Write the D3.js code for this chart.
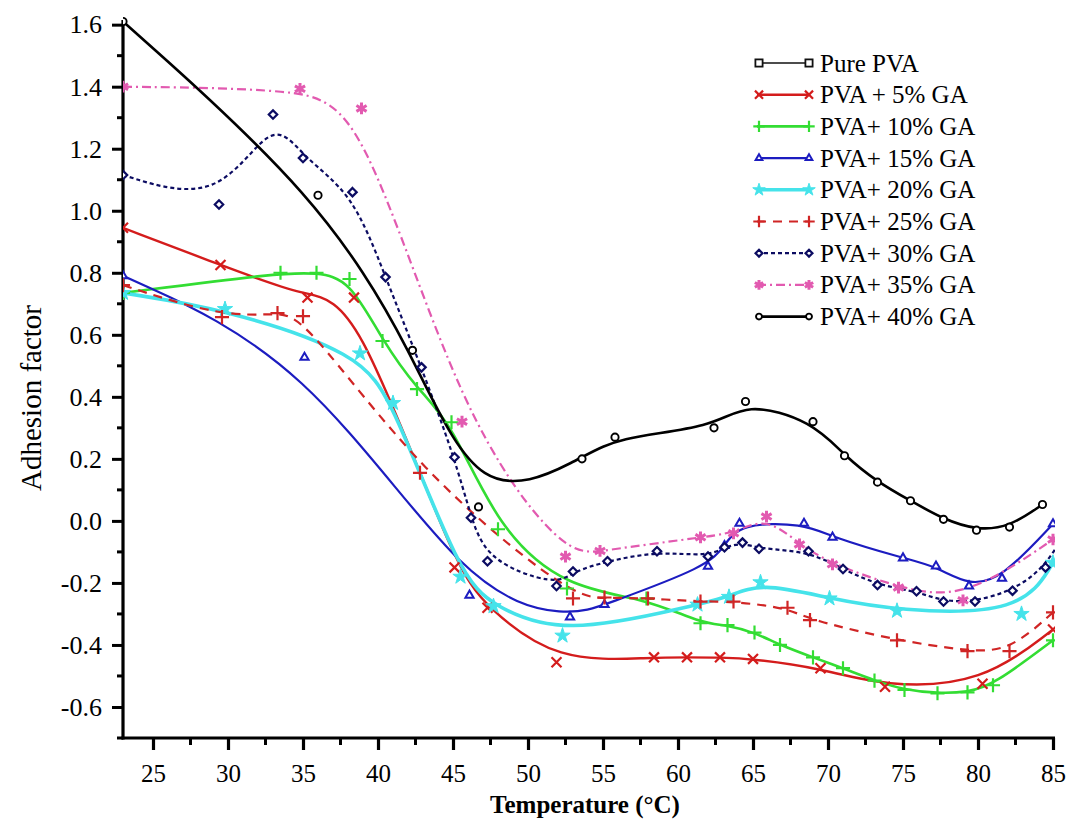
<!DOCTYPE html>
<html>
<head>
<meta charset="utf-8">
<script src="https://cdn.jsdelivr.net/npm/d3@7"></script>
<style>
  body { margin: 0; background: #fff; }
</style>
</head>
<body>
<svg id="chart" width="1071" height="821"></svg>
<script>
// Adhesion factor vs temperature for PVA films with increasing GA content
const xTicks = [25, 30, 35, 40, 45, 50, 55, 60, 65, 70, 75, 80, 85];
const yTicks = [-0.6, -0.4, -0.2, 0.0, 0.2, 0.4, 0.6, 0.8, 1.0, 1.2, 1.4, 1.6];

const seriesNames = ["Pure PVA", "PVA + 5% GA", "PVA+ 10% GA", "PVA+ 15% GA", "PVA+ 20% GA",
                     "PVA+ 25% GA", "PVA+ 30% GA", "PVA+ 35% GA", "PVA+ 40% GA"];

// [temperature °C, adhesion factor]
const purePVA = [];
const ga5 = [[23,0.945],[29.5,0.825],[35.3,0.72],[38.4,0.72],[45.1,-0.15],[47.3,-0.28],[51.9,-0.456],
             [58.4,-0.44],[60.6,-0.44],[62.8,-0.44],[65,-0.445],[69.5,-0.475],[73.8,-0.535],[80.3,-0.525],[85,-0.35]];
const ga10 = [[23,0.735],[33.5,0.80],[35.9,0.80],[38.1,0.78],[40.3,0.58],[42.6,0.425],[44.9,0.318],[48,-0.027],
              [52.6,-0.218],[57.9,-0.25],[61.5,-0.33],[63.3,-0.336],[65.1,-0.36],[66.8,-0.40],[69,-0.44],[71,-0.475],
              [73.1,-0.515],[75.1,-0.545],[77.3,-0.556],[79.3,-0.553],[81,-0.53],[85,-0.385]];
const ga15 = [[23,0.79],[35.1,0.527],[46.1,-0.24],[52.8,-0.31],[55.1,-0.27],[62,-0.147],[63.1,-0.08],[64.1,-0.008],
              [68.4,-0.008],[70.3,-0.053],[75,-0.12],[77.2,-0.146],[79.4,-0.21],[81.6,-0.185],[85,-0.01]];
const ga20 = [[23,0.735],[29.8,0.683],[38.8,0.54],[41,0.38],[45.5,-0.18],[47.7,-0.275],[52.3,-0.37],[61.3,-0.27],
              [63.4,-0.245],[65.5,-0.198],[70.1,-0.25],[74.6,-0.29],[82.9,-0.30],[85,-0.135]];
const ga25 = [[23,0.76],[29.6,0.657],[33.3,0.67],[35,0.66],[42.8,0.155],[53,-0.25],[55.1,-0.247],[58,-0.25],[61.5,-0.26],
              [63.7,-0.26],[67.3,-0.28],[68.8,-0.32],[74.6,-0.385],[79.3,-0.42],[82.1,-0.42],[85,-0.295]];
const ga30 = [[23,1.115],[29.4,1.02],[33,1.31],[35,1.17],[38.3,1.06],[40.5,0.786],[42.9,0.495],[45.1,0.205],
              [46.2,0.01],[47.3,-0.13],[51.9,-0.21],[53,-0.163],[55.3,-0.13],[58.6,-0.098],[62,-0.115],[63.1,-0.085],
              [64.3,-0.07],[65.4,-0.09],[68.7,-0.098],[71,-0.155],[73.3,-0.207],[75.9,-0.227],[77.7,-0.26],
              [79.8,-0.26],[82.3,-0.225],[84.5,-0.15],[86,-0.02]];
const ga35 = [[23,1.40],[34.8,1.393],[38.9,1.33],[45.6,0.32],[52.5,-0.115],[54.8,-0.097],[61.5,-0.053],[63.7,-0.04],
              [65.9,0.014],[68.1,-0.076],[70.3,-0.14],[74.7,-0.215],[79,-0.256],[85,-0.06]];
const ga40 = [[23,1.61],[36,1.05],[42.3,0.55],[46.7,0.045],[53.6,0.20],[55.8,0.27],[62.4,0.30],[64.5,0.385],
              [69,0.32],[71.1,0.21],[73.3,0.125],[75.5,0.065],[77.7,0.005],[79.9,-0.03],[82.1,-0.02],[84.3,0.053]];

const seriesData = [purePVA, ga5, ga10, ga15, ga20, ga25, ga30, ga35, ga40];

// line / marker styling per series
const styles = [
  { color: "#111111", width: 1.6, dash: null,        marker: "square" },
  { color: "#d41c1c", width: 2.4, dash: null,        marker: "x" },
  { color: "#33dd33", width: 2.6, dash: null,        marker: "plus" },
  { color: "#1c1cc0", width: 2.2, dash: null,        marker: "triangle" },
  { color: "#45e3ea", width: 3.6, dash: null,        marker: "star" },
  { color: "#d02525", width: 2.2, dash: "9,7",       marker: "plus" },
  { color: "#0c0c62", width: 2.2, dash: "4,3",       marker: "diamond" },
  { color: "#e25ab0", width: 2.2, dash: "9,4,2,4",   marker: "asterisk" },
  { color: "#000000", width: 2.6, dash: null,        marker: "circle" }
];

const SERIF = "'Liberation Serif', 'DejaVu Serif', 'Noto Serif', 'Times New Roman', Times, serif";

const svg = d3.select("#chart");
const x = d3.scaleLinear().domain([23, 85]).range([123, 1053]);
const y = d3.scaleLinear().domain([-0.7, 1.615]).range([738, 20]);

// clip region for the curves
svg.append("defs").append("clipPath").attr("id", "plotClip")
  .append("rect").attr("x", x(23)).attr("y", y(1.615) - 10)
  .attr("width", x(85) - x(23) + 2).attr("height", y(-0.7) - y(1.615) + 10);

function drawMarker(g, kind, cx, cy, color, r) {
  const m = g.append("g").attr("transform", `translate(${cx},${cy})`);
  switch (kind) {
    case "square":
      m.append("rect").attr("x", -r * 0.8).attr("y", -r * 0.8).attr("width", r * 1.6).attr("height", r * 1.6)
        .attr("fill", "#fff").attr("stroke", color).attr("stroke-width", 1.8); break;
    case "x":
      m.append("path").attr("d", d3.symbol(d3.symbolX, r * r * 2.2)())
        .attr("fill", "none").attr("stroke", color).attr("stroke-width", 2.2); break;
    case "plus":
      m.append("path").attr("d", d3.symbol(d3.symbolPlus, r * r * 2.2)())
        .attr("fill", "none").attr("stroke", color).attr("stroke-width", 2.2); break;
    case "triangle":
      m.append("path").attr("d", d3.symbol(d3.symbolTriangle2, r * r * 1.6)())
        .attr("fill", "#fff").attr("stroke", color).attr("stroke-width", 2); break;
    case "star":
      m.append("path").attr("d", d3.symbol(d3.symbolStar, r * r * 2.4)())
        .attr("fill", color).attr("stroke", color).attr("stroke-width", 1); break;
    case "diamond":
      m.append("path").attr("d", d3.symbol(d3.symbolDiamond2, r * r * 1.5)())
        .attr("fill", "#fff").attr("stroke", color).attr("stroke-width", 2.2); break;
    case "asterisk":
      m.append("path").attr("d", d3.symbol(d3.symbolAsterisk, r * r * 3.2)())
        .attr("fill", "none").attr("stroke", color).attr("stroke-width", 3); break;
    case "circle":
      m.append("circle").attr("r", r * 0.66)
        .attr("fill", "#fff").attr("stroke", color).attr("stroke-width", 1.9); break;
  }
}

// axes
const axisG = svg.append("g");
const yAxis = d3.axisLeft(y).tickValues(yTicks).tickSize(11).tickPadding(10)
  .tickFormat(d => (d < 0 ? "-" : "") + Math.abs(d).toFixed(1));
axisG.append("g").attr("transform", `translate(${x(23)},0)`).call(yAxis)
  .attr("font-family", null).attr("font-size", null)
  .call(g => g.select(".domain").remove())
  .call(g => g.selectAll("line").attr("stroke", "#000").attr("stroke-width", 3))
  .call(g => g.selectAll("text").style("font-family", SERIF).style("font-size", "26px").attr("fill", "#000"));
// minor y ticks
axisG.append("g").selectAll("line").data(d3.range(-0.7, 1.61, 0.2).map(v => +v.toFixed(2)))
  .join("line").attr("x1", x(23) - 6).attr("x2", x(23)).attr("y1", d => y(d)).attr("y2", d => y(d))
  .attr("stroke", "#000").attr("stroke-width", 3);

const xAxis = d3.axisBottom(x).tickValues(xTicks).tickSize(12).tickPadding(8).tickFormat(d3.format("d"));
axisG.append("g").attr("transform", `translate(0,${y(-0.7)})`).call(xAxis)
  .attr("font-family", null).attr("font-size", null)
  .call(g => g.select(".domain").remove())
  .call(g => g.selectAll("line").attr("stroke", "#000").attr("stroke-width", 3.2))
  .call(g => g.selectAll("text").style("font-family", SERIF).style("font-size", "25px").attr("fill", "#000")
    .attr("y", 44).attr("dy", null));
// minor x ticks
axisG.append("g").selectAll("line").data(d3.range(27.5, 85, 5))
  .join("line").attr("x1", d => x(d)).attr("x2", d => x(d)).attr("y1", y(-0.7)).attr("y2", y(-0.7) + 7)
  .attr("stroke", "#000").attr("stroke-width", 3);

// axis lines
axisG.append("line").attr("x1", x(23)).attr("x2", x(23)).attr("y1", y(1.615)).attr("y2", y(-0.7) + 1.5)
  .attr("stroke", "#000").attr("stroke-width", 3.2);
axisG.append("line").attr("x1", x(23) - 1.5).attr("x2", x(85) + 2).attr("y1", y(-0.7)).attr("y2", y(-0.7))
  .attr("stroke", "#000").attr("stroke-width", 3.2);

// axis titles
svg.append("text").attr("x", 585).attr("y", 813).attr("text-anchor", "middle")
  .style("font-family", SERIF).style("font-size", "25px").style("font-weight", "bold")
  .text("Temperature (°C)");
svg.append("text").attr("transform", "translate(41,398) rotate(-90)").attr("text-anchor", "middle")
  .style("font-family", SERIF).style("font-size", "29px").text("Adhesion factor");

// curves (uniform B-spline through the measured points) and markers
const line = d3.line().x(d => x(d[0])).y(d => y(d[1])).curve(d3.curveBasis);
const plot = svg.append("g").attr("clip-path", "url(#plotClip)");
seriesData.forEach((data, i) => {
  if (!data.length) return;
  const s = styles[i];
  plot.append("path").datum(data).attr("d", line).attr("fill", "none")
    .attr("stroke", s.color).attr("stroke-width", s.width)
    .attr("stroke-dasharray", s.dash).attr("stroke-linejoin", "round");
});
const markG = svg.append("g").attr("clip-path", "url(#plotClip)");
seriesData.forEach((data, i) => {
  const s = styles[i];
  data.forEach(d => drawMarker(markG, s.marker, x(d[0]), y(d[1]), s.color, 5.5));
});

// legend
const legend = svg.append("g");
seriesNames.forEach((name, i) => {
  const s = styles[i];
  const cy = 63 + i * 31.7;
  legend.append("line").attr("x1", 757).attr("x2", 810).attr("y1", cy).attr("y2", cy)
    .attr("stroke", s.color).attr("stroke-width", s.width).attr("stroke-dasharray", s.dash);
  drawMarker(legend, s.marker, 759, cy, s.color, 4.5);
  drawMarker(legend, s.marker, 809, cy, s.color, 4.5);
  legend.append("text").attr("x", 820).attr("y", cy + 8.5)
    .style("font-family", SERIF).style("font-size", "25px").text(name);
});
</script>
</body>
</html>
